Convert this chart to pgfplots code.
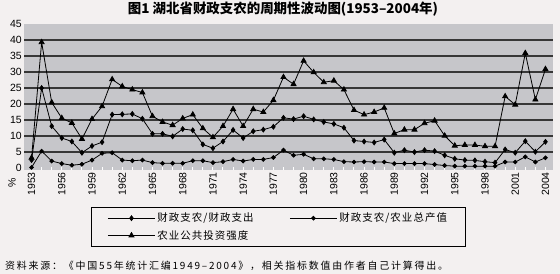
\documentclass[border=0pt]{standalone}
\usepackage{fontspec}
\setmainfont{Liberation Sans}
\newfontfamily\cjk{Noto Sans CJK SC}
\newfontfamily\cjkls[LetterSpace=10]{Noto Sans CJK SC}
\newfontfamily\cjksrc[LetterSpace=18]{Noto Sans CJK SC}
\usepackage{pgfplots}
\usepackage{pgfplotstable}
\pgfplotsset{compat=1.18}
\definecolor{pagebg}{RGB}{243,240,240}
\definecolor{plotbg}{RGB}{198,198,202}
\definecolor{gridc}{RGB}{55,55,55}

\pgfplotstableread{
year tri dia cir
1953 3.2 2.5 0.2
1954 39.3 25.0 5.3
1955 20.5 13.1 2.2
1956 15.6 9.4 1.4
1957 14.1 8.3 0.9
1958 9.1 4.8 1.2
1959 15.3 6.9 2.5
1960 19.3 8.1 4.6
1961 27.7 16.7 4.8
1962 25.5 16.8 2.5
1963 24.5 16.9 2.3
1964 23.6 15.4 2.5
1965 16.2 10.7 1.7
1966 14.4 10.7 1.5
1967 13.4 9.9 1.5
1968 15.5 12.2 1.5
1969 16.7 11.8 2.3
1970 12.4 7.4 2.3
1971 9.6 6.2 1.7
1972 13.1 8.3 2.0
1973 18.4 11.9 2.7
1974 13.1 9.4 2.2
1975 18.4 11.5 2.7
1976 17.5 12.0 2.7
1977 21.2 12.9 3.3
1978 28.4 15.7 5.6
1979 26.2 15.3 4.0
1980 33.5 16.2 4.3
1981 29.9 15.2 2.9
1982 26.8 14.4 2.9
1983 27.3 13.8 2.7
1984 24.5 12.6 2.0
1985 18.1 8.6 1.9
1986 16.7 8.3 2.0
1987 17.5 8.0 1.9
1988 18.8 8.9 1.9
1989 10.8 4.8 1.4
1990 12.0 5.6 1.4
1991 12.0 5.0 1.4
1992 14.0 5.6 1.4
1993 14.8 5.3 1.1
1994 10.1 4.0 0.8
1995 7.0 2.9 0.6
1996 7.2 2.5 0.6
1997 7.2 2.4 0.6
1998 6.8 2.0 0.6
1999 6.8 1.7 0.6
2000 22.4 5.8 1.9
2001 19.8 4.8 1.9
2002 35.9 8.4 3.5
2003 21.4 5.1 1.9
2004 30.9 8.2 3.2
}\datatable

\begin{document}
\begin{tikzpicture}
\useasboundingbox (0bp,0bp) rectangle (560bp,274bp);
\fill[pagebg] (0bp,0bp) rectangle (560bp,274bp);
\begin{axis}[
  at={(24bp,104bp)}, anchor=south west,
  scale only axis, width=529bp, height=146bp,
  xmin=1952.25, xmax=2004.75, ymin=-0.6, ymax=45,
  axis background/.style={fill=plotbg},
  axis line style={draw=none},
  ytick={5,10,...,40},
  extra y ticks={0,45},
  extra y tick style={grid=none},
  ymajorgrids,
  major grid style={gridc, line width=1.2bp},
  ytick style={draw=none},
  xtick={1953,1956,...,2004},
  minor xtick={1953,...,2004},
  xtick style={white, line width=1bp},
  minor tick length=3bp, major tick length=3bp,
  tick align=inside, xtick pos=bottom,
  /pgf/number format/assume math mode=true,
  /pgf/number format/1000 sep={},
  yticklabel style={font=\fontsize{10.5}{11}\selectfont, inner xsep=2bp},
  xticklabel style={font=\fontsize{10.5}{11}\selectfont, rotate=90, anchor=east, inner xsep=2bp},
  legend columns=2,
  legend cell align=left,
  legend style={at={(0.127,-0.251)}, anchor=north west, draw=black, line width=0.8bp,
    fill=none, font=\cjkls\fontsize{10.5}{12}\selectfont,
    inner xsep=16bp, inner ysep=4bp, row sep=3bp,
    /tikz/every even column/.append style={column sep=34bp}},
  legend image code/.code={\draw[mark repeat=2,mark phase=2] plot coordinates {(0bp,0bp)(23.5bp,0bp)(47bp,0bp)};},
]
\addplot[black, line width=0.8bp, mark=diamond*, mark size=2.4bp] table[x=year,y=dia]{\datatable};
\addlegendentry{财政支农/财政支出}
\addplot[black, line width=0.8bp, mark=*, mark size=1.9bp] table[x=year,y=cir]{\datatable};
\addlegendentry{财政支农/农业总产值}
\addplot[black, line width=0.8bp, mark=triangle*, mark size=2.9bp] table[x=year,y=tri]{\datatable};
\addlegendentry{农业公共投资强度}
\end{axis}
\node[font=\cjk\bfseries\fontsize{13.5}{15}\selectfont] at (283bp,265bp) {图1 湖北省财政支农的周期性波动图(1953–2004年)};
\node[rotate=90, font=\fontsize{10.5}{11}\selectfont] at (12bp,91bp) {\%};
\node[anchor=west, font=\cjksrc\fontsize{10}{12}\selectfont, inner sep=0pt] at (5bp,8bp) {资料来源：《中国55年统计汇编1949–2004》，相关指标数值由作者自己计算得出。};
\end{tikzpicture}
\end{document}
